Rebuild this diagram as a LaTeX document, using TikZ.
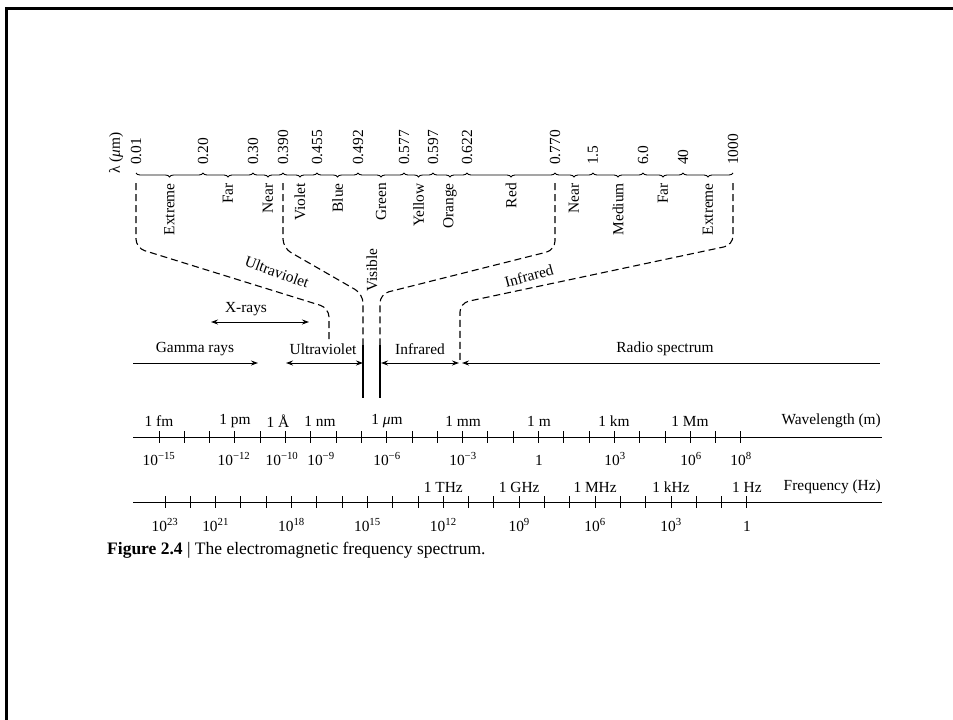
\documentclass[tikz,border=0pt]{standalone}
\usepackage{fontspec}
\setmainfont{Liberation Serif}
\usetikzlibrary{arrows.meta,decorations.pathreplacing,calc}

\tikzset{
  lbl/.style={inner sep=1pt, font=\fontsize{15.4}{17}\selectfont},
  vlbl/.style={lbl, rotate=90},
  band/.style={line width=1pt, -{Stealth[length=7pt,width=5pt]}},
  bracket/.style={dash pattern=on 7pt off 4pt, line width=1.1pt, rounded corners=9pt},
  scalebrace/.style={decorate, decoration={brace, mirror, amplitude=4pt}, line width=0.9pt},
  tickmark/.style={line width=1pt},
}

\begin{document}
\begin{tikzpicture}[x=1pt,y=-1pt]
  \useasboundingbox (0,0) rectangle (953,720);
  \draw[line width=3pt] (6,720) -- (6,8) -- (953,8);

  % lambda scale at the top
  \node[vlbl, anchor=west] (lam) at (116,175) {λ (\textit{μ}m)};
  \foreach \n/\x/\v in {a/136/0.01, b/203/0.20, c/253/0.30, d/283/0.390,
                        e/317/0.455, f/358/0.492, g/404/0.577, h/433/0.597,
                        i/467/0.622, j/555/0.770, k/593/1.5, l/643/6.0,
                        m/683/40, n/733/1000} {
    \coordinate (p\n) at (\x,173);
    \node[vlbl, anchor=west] (v\n) at (\x,166) {\v};
  }
  \foreach \s/\t/\c in {a/b/Extreme, b/c/Far, c/d/Near, d/e/Violet, e/f/Blue,
                        f/g/Green, g/h/Yellow, h/i/Orange, i/j/Red, j/k/Near,
                        k/l/Medium, l/m/Far, m/n/Extreme} {
    \draw[scalebrace] (p\s) -- (p\t);
    \node[vlbl, anchor=east] (c\s) at ($(p\s)!.5!(p\t)+(0,9)$) {\c};
  }

  % dashed brackets down to the bands
  \coordinate (uvEnd) at (329,340);
  \coordinate (visL) at (363,345);
  \coordinate (visR) at (380,345);
  \coordinate (irEnd) at (460,362);
  \draw[bracket] ($(pa)+(0,10)$) -- (136,248) -- (329,308) -- (uvEnd);
  \draw[bracket] ($(pd)+(0,10)$) -- (283,248) -- (363,294) -- (visL);
  \draw[bracket] ($(pj)+(0,10)$) -- (555,250) -- (380,294) -- (visR);
  \draw[bracket] ($(pn)+(0,10)$) -- (733,245) -- (460,303) -- (irEnd);
  \node[lbl, rotate=-20] (uvTxt) at (277,272) {Ultraviolet};
  \node[vlbl] (visTxt) at (372,270) {Visible};
  \node[lbl, rotate=15] (irTxt) at (529,276) {Infrared};

  % bands
  \coordinate (xL) at (211,322);
  \coordinate (xR) at (309,322);
  \draw[band, {Stealth[length=7pt,width=5pt]}-{Stealth[length=7pt,width=5pt]}] (xL) -- (xR);
  \node[lbl] (xTxt) at (246,309) {X-rays};

  \coordinate (gL) at (133,363);
  \coordinate (gR) at (258,363);
  \draw[band] (gL) -- (gR);
  \node[lbl] (gTxt) at (195,349) {Gamma rays};

  \coordinate (uL) at (286,363);
  \draw[band, {Stealth[length=7pt,width=5pt]}-{Stealth[length=7pt,width=5pt]}] (uL) -- (363,363);
  \node[lbl] (uTxt) at (323,349) {Ultraviolet};

  \draw[line width=1.2pt] (visL) -- (363,398);
  \draw[line width=1.2pt] (visR) -- (380,398);

  \coordinate (iR) at (459,363);
  \draw[band, {Stealth[length=7pt,width=5pt]}-{Stealth[length=7pt,width=5pt]}] (381,363) -- (iR);
  \node[lbl] (iTxt) at (420,349) {Infrared};

  \coordinate (rR) at (880,363);
  \draw[band, {Stealth[length=7pt,width=5pt]}-] (462,363) -- (rR);
  \node[lbl] (rTxt) at (665,349) {Radio spectrum};

  % wavelength axis
  \coordinate (wL) at (133,437);
  \coordinate (wR) at (882,437);
  \draw[line width=1pt] (wL) -- (wR);
  \foreach \i in {0,...,23}
    \draw[tickmark] (159+\i*25.3,431) -- (159+\i*25.3,443);
  \foreach \x/\t in {159/1 fm, 235/1 pm, 278/1 Å, 320/1 nm, 387/1 \textit{μ}m,
                     463/1 mm, 539/1 m, 614/1 km, 690/1 Mm}
    \node[lbl] (wu\x) at (\x,421) {\t};
  \foreach \x/\t in {159/−15, 234/−12, 282/−10, 321/−9, 387/−6, 463/−3,
                     615/3, 691/6, 741/8}
    \node[lbl] (wd\x) at (\x,459) {10\textsuperscript{\t}};
  \node[lbl] (wdOne) at (539,460) {1};
  \node[lbl, anchor=east] (wTxt) at (wR |- 0,421) {Wavelength (m)};

  % frequency axis
  \coordinate (fL) at (133,502);
  \coordinate (fR) at (882,502);
  \draw[line width=1pt] (fL) -- (fR);
  \foreach \i in {0,...,23}
    \draw[tickmark] (165+\i*25.3,496) -- (165+\i*25.3,508);
  \foreach \i/\t in {11/1 THz, 14/1 GHz, 17/1 MHz, 20/1 kHz, 23/1 Hz}
    \node[lbl] (fu\i) at (165+\i*25.3,487) {\t};
  \foreach \i/\t in {0/23, 2/21, 5/18, 8/15, 11/12, 14/9, 17/6, 20/3}
    \node[lbl] (fd\i) at (165+\i*25.3,525) {10\textsuperscript{\t}};
  \node[lbl] (fd23) at (165+23*25.3,526) {1};
  \node[lbl, anchor=east] (fTxt) at (fR |- 0,487) {Frequency (Hz)};

  % caption
  \node[anchor=west, inner sep=0pt, font=\fontsize{17.5}{20}\selectfont] (cap) at (107,550)
    {\textbf{Figure 2.4} | The electromagnetic frequency spectrum.};
\end{tikzpicture}
\end{document}
